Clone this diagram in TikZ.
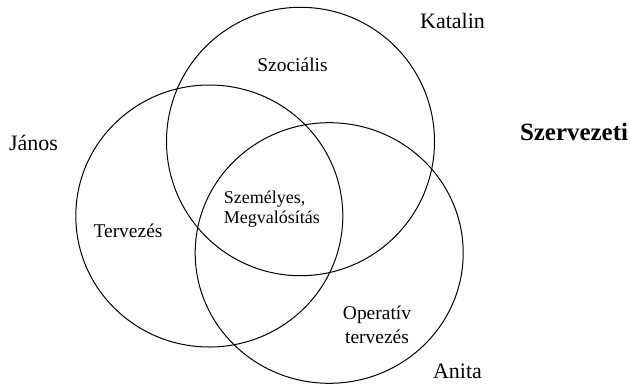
\documentclass[tikz,border=0pt]{standalone}
\usepackage{fontspec}
\setmainfont{Liberation Serif}

\tikzset{every picture/.style={line width=0.75pt}}
\tikzset{person/.style={inner sep=0pt, anchor=base, font=\fontsize{16.5}{20}\selectfont},
  area/.style={inner sep=0pt, anchor=base, font=\fontsize{14.6}{17.5}\selectfont}}

\begin{document}
\begin{tikzpicture}[x=0.75pt,y=0.75pt,yscale=-1,xscale=1]
%set diagram left start at 0, and has height of 385
\useasboundingbox (0,0) rectangle (631,385);

%Shape: Ellipse [id:katalin] 
\draw   (300.5,141.5) ellipse [x radius=134, y radius=134.2] ;
%Shape: Ellipse [id:janos] 
\draw   (209.3,216) ellipse [x radius=133.5, y radius=131] ;
%Shape: Ellipse [id:anita] 
\draw   (329.2,253) ellipse [x radius=134, y radius=130.3] ;


% Text Node
\draw (452.5,28.3) node [person] (katalin) {Katalin};
% Text Node
\draw (33.5,150) node [person] (janos) {János};
% Text Node
\draw (457.5,378.3) node [person] (anita) {Anita};
% Text Node
\draw (574,140) node [person, font=\fontsize{18.7}{22}\selectfont\bfseries] (szervezeti) {Szervezeti};
% Text Node
\draw (292.5,71) node [area] (szocialis) {Szociális};
% Text Node
\draw (128,237.3) node [area] (tervezes) {Tervezés};
% Text Node
\draw (223.3,223.3) node [area, anchor=base west, align=left, font=\fontsize{13.5}{15.2}\selectfont] (szemelyes) {Személyes,\\Megvalósítás};
% Text Node
\draw (377,343.3) node [area, align=center] (operativ) {Operatív\\tervezés};


\end{tikzpicture}
\end{document}
